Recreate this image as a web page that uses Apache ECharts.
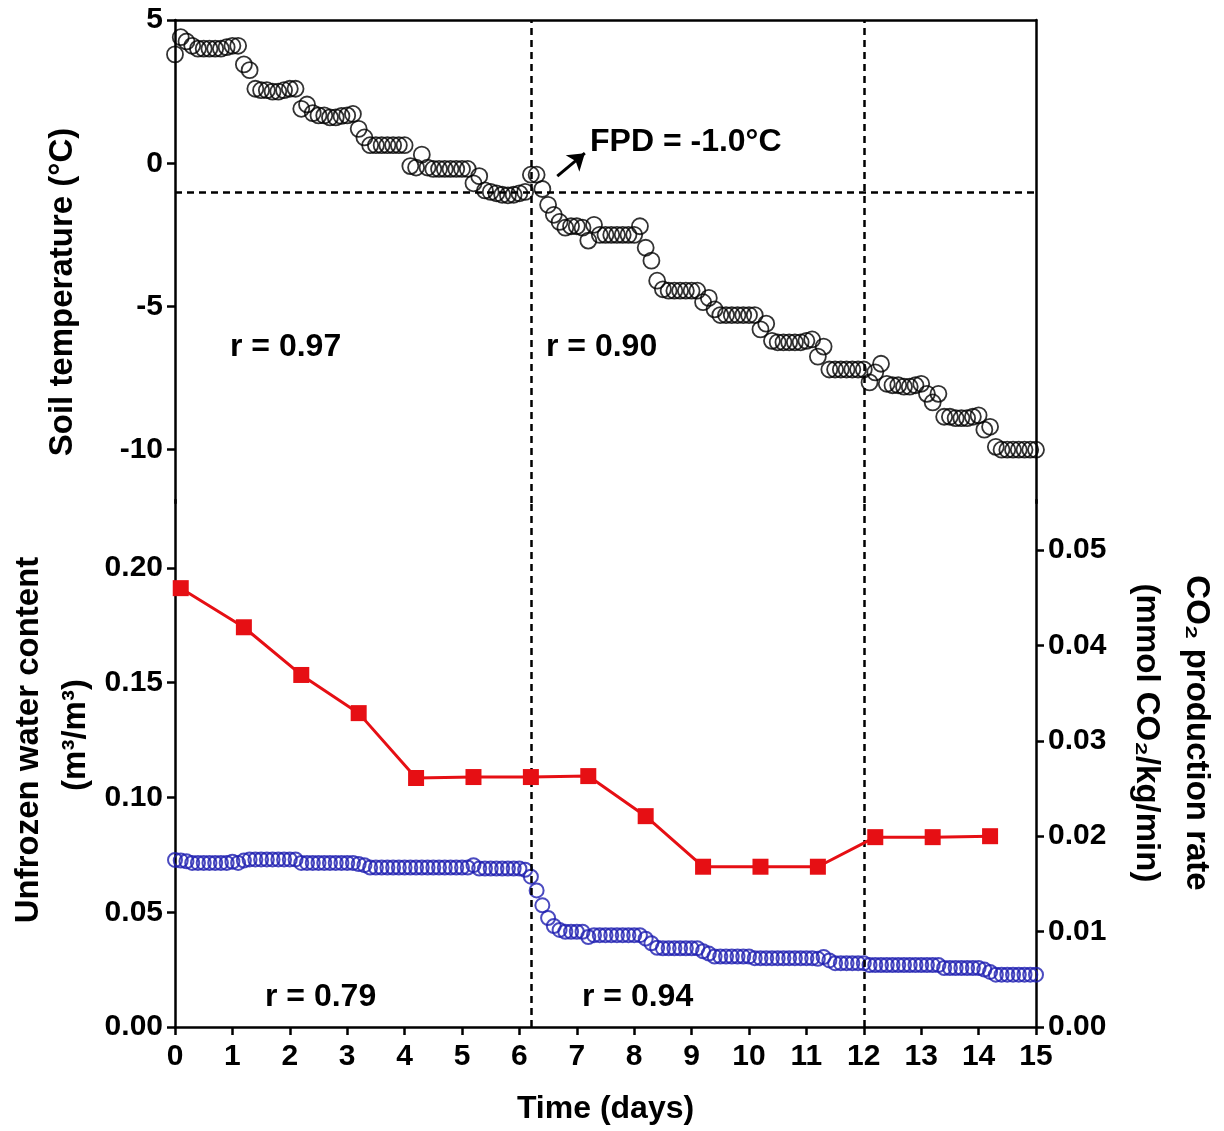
<!DOCTYPE html>
<html>
<head>
<meta charset="utf-8">
<script src="https://cdn.jsdelivr.net/npm/echarts@6/dist/echarts.min.js"></script>
<style>
html,body{margin:0;padding:0;background:#fff;}
#chart{width:1224px;height:1131px;}
</style>
</head>
<body>
<div id="chart"></div>
<script>
// ---- data ----
const sampleStepDays = 0.1; // sampling interval of the logged series (days)

const soilTemp = [
  3.8, 4.4, 4.25, 4.1, 4.0, 4.0, 4.0, 4.0, 4.0, 4.05,
  4.1, 4.1, 3.45, 3.25, 2.6, 2.55, 2.55, 2.5, 2.5, 2.55,
  2.6, 2.6, 1.9, 2.05, 1.75, 1.67, 1.67, 1.6, 1.6, 1.65,
  1.67, 1.72, 1.2, 0.9, 0.63, 0.63, 0.63, 0.63, 0.63, 0.63,
  0.63, -0.1, -0.15, 0.3, -0.15, -0.2, -0.2, -0.2, -0.2, -0.2,
  -0.2, -0.2, -0.7, -0.45, -0.95, -1.0, -1.05, -1.1, -1.12, -1.1,
  -1.05, -1.0, -0.4, -0.4, -0.9, -1.45, -1.8, -2.05, -2.25, -2.2,
  -2.2, -2.25, -2.7, -2.15, -2.5, -2.5, -2.5, -2.5, -2.5, -2.5,
  -2.5, -2.2, -2.95, -3.4, -4.1, -4.4, -4.45, -4.45, -4.45, -4.45,
  -4.45, -4.45, -4.85, -4.7, -5.1, -5.3, -5.3, -5.3, -5.3, -5.3,
  -5.3, -5.3, -5.8, -5.6, -6.2, -6.25, -6.25, -6.25, -6.25, -6.25,
  -6.2, -6.15, -6.75, -6.4, -7.2, -7.2, -7.2, -7.2, -7.2, -7.2,
  -7.2, -7.65, -7.3, -7.0, -7.7, -7.75, -7.75, -7.8, -7.8, -7.75,
  -7.7, -8.05, -8.35, -8.05, -8.85, -8.85, -8.9, -8.9, -8.9, -8.85,
  -8.8, -9.3, -9.2, -9.9, -10.0, -10.0, -10.0, -10.0, -10.0, -10.0,
  -10.0
];

const unfrozenWater = [
  0.0728, 0.0725, 0.0722, 0.0715, 0.0715, 0.0715, 0.0715, 0.0715, 0.0715, 0.0715,
  0.0720, 0.0715, 0.0725, 0.0730, 0.0730, 0.0730, 0.0730, 0.0730, 0.0730, 0.0730,
  0.0730, 0.0730, 0.0715, 0.0715, 0.0715, 0.0715, 0.0715, 0.0715, 0.0715, 0.0715,
  0.0715, 0.0715, 0.0710, 0.0705, 0.0695, 0.0695, 0.0695, 0.0695, 0.0695, 0.0695,
  0.0695, 0.0695, 0.0695, 0.0695, 0.0695, 0.0695, 0.0695, 0.0695, 0.0695, 0.0695,
  0.0695, 0.0695, 0.0705, 0.0690, 0.0690, 0.0690, 0.0690, 0.0690, 0.0690, 0.0690,
  0.0690, 0.0685, 0.0655, 0.0595, 0.0530, 0.0475, 0.0440, 0.0423, 0.0415, 0.0415,
  0.0415, 0.0415, 0.0392, 0.0400, 0.0400, 0.0400, 0.0400, 0.0400, 0.0400, 0.0400,
  0.0400, 0.0400, 0.0385, 0.0365, 0.0345, 0.0343, 0.0343, 0.0343, 0.0343, 0.0343,
  0.0343, 0.0343, 0.0330, 0.0320, 0.0307, 0.0307, 0.0307, 0.0307, 0.0307, 0.0307,
  0.0307, 0.0300, 0.0300, 0.0300, 0.0300, 0.0300, 0.0300, 0.0300, 0.0300, 0.0300,
  0.0300, 0.0300, 0.0297, 0.0305, 0.0290, 0.0278, 0.0278, 0.0278, 0.0278, 0.0278,
  0.0278, 0.0270, 0.0270, 0.0270, 0.0270, 0.0270, 0.0270, 0.0270, 0.0270, 0.0270,
  0.0270, 0.0270, 0.0270, 0.0270, 0.0257, 0.0257, 0.0257, 0.0257, 0.0257, 0.0257,
  0.0257, 0.0250, 0.0240, 0.0228, 0.0228, 0.0228, 0.0228, 0.0228, 0.0228, 0.0228,
  0.0228
];

const co2Days = [0.1, 1.2, 2.2, 3.2, 4.2, 5.2, 6.2, 7.2, 8.2, 9.2, 10.2, 11.2, 12.2, 13.2, 14.2];
const co2Rate = [0.0460, 0.0419, 0.0369, 0.0329, 0.0261, 0.0262, 0.0262, 0.0263, 0.0221, 0.0168, 0.0168, 0.0168, 0.0199, 0.0199, 0.0200];

const phaseBoundaries = [6.2, 12];
const fpdTemp = -1.0;
const tempTicks = [-10, -5, 0, 5];
const waterTicks = [0, 0.05, 0.10, 0.15, 0.20];
const co2Ticks = [0, 0.01, 0.02, 0.03, 0.04, 0.05];

// ---- chart ----
const FONT = '"Liberation Sans", Arial, Helvetica, sans-serif';
const AX = { color: '#000', width: 2.5 };
const AXL = { show: true, onZero: false, lineStyle: AX };
const dash = { type: [7, 5], color: '#000', width: 2.5 };

const tempPts = soilTemp.map((v, i) => [+(i * sampleStepDays).toFixed(2), v]);
const waterPts = unfrozenWater.map((v, i) => [+(i * sampleStepDays).toFixed(2), v]);
const co2Pts = co2Days.map((d, i) => [d, co2Rate[i]]);

const labelStyle = { color: '#000', fontSize: 30, fontWeight: 'bold', fontFamily: FONT };

const chart = echarts.init(document.getElementById('chart'), null, { renderer: 'canvas' });

function txt(text, x, y, opts) {
  opts = opts || {};
  return {
    type: 'text', x: x, y: y, rotation: opts.rotation || 0, z: 100,
    style: {
      text: text, fill: '#000',
      font: 'bold ' + (opts.size || 32) + 'px ' + FONT,
      align: opts.align || 'left', verticalAlign: 'middle',
      textAlign: opts.align || 'left', textVerticalAlign: 'middle'
    }
  };
}

const option = {
  animation: false,
  backgroundColor: '#fff',
  grid: [
    { left: 175, top: 20, width: 861, height: 483 },
    { left: 175, top: 500, width: 861, height: 527 }
  ],
  xAxis: [
    { gridIndex: 0, type: 'value', min: 0, max: 15, position: 'top',
      axisLine: AXL, axisTick: { show: false },
      axisLabel: { show: false }, splitLine: { show: false } },
    { gridIndex: 1, type: 'value', min: 0, max: 15, interval: 1, position: 'bottom',
      axisLine: AXL,
      axisTick: { show: true, length: 8, lineStyle: AX },
      axisLabel: Object.assign({ margin: 15 }, labelStyle),
      splitLine: { show: false },
      name: 'Time (days)', nameLocation: 'middle', nameGap: 66,
      nameTextStyle: { color: '#000', fontSize: 32, fontWeight: 'bold', fontFamily: FONT } }
  ],
  yAxis: [
    { gridIndex: 0, type: 'value', min: -11.86, max: 5, position: 'left',
      axisLine: AXL,
      axisTick: { show: true, length: 8, lineStyle: AX, customValues: tempTicks },
      axisLabel: Object.assign({ margin: 12, customValues: tempTicks }, labelStyle),
      splitLine: { show: false } },
    { gridIndex: 0, type: 'value', min: -11.86, max: 5, position: 'right',
      axisLine: AXL, axisTick: { show: false },
      axisLabel: { show: false }, splitLine: { show: false } },
    { gridIndex: 1, type: 'value', min: 0, max: 0.2296, position: 'left',
      axisLine: AXL,
      axisTick: { show: true, length: 8, lineStyle: AX, customValues: waterTicks },
      axisLabel: Object.assign({ margin: 12, customValues: waterTicks, formatter: v => v.toFixed(2) }, labelStyle),
      splitLine: { show: false } },
    { gridIndex: 1, type: 'value', min: 0, max: 0.05524, position: 'right',
      axisLine: AXL,
      axisTick: { show: true, length: 8, lineStyle: AX, customValues: co2Ticks },
      axisLabel: Object.assign({ margin: 12, customValues: co2Ticks, formatter: v => v.toFixed(2) }, labelStyle),
      splitLine: { show: false } }
  ],
  series: [
    { type: 'scatter', name: 'Soil temperature', xAxisIndex: 0, yAxisIndex: 0,
      data: tempPts, symbol: 'circle', symbolSize: 16,
      itemStyle: { color: 'rgba(0,0,0,0)', borderColor: '#000', borderWidth: 1.8 },
      markLine: {
        silent: true, symbol: 'none', animation: false,
        label: { show: false }, lineStyle: dash,
        data: [
          { xAxis: phaseBoundaries[0] }, { xAxis: phaseBoundaries[1] }, { yAxis: fpdTemp },
          [
            { coord: [6.66, -0.45], symbol: 'none', lineStyle: { type: 'solid', width: 3, color: '#000' } },
            { coord: [7.14, 0.35], symbol: 'arrow', symbolSize: 16 }
          ]
        ]
      } },
    { type: 'scatter', name: 'Unfrozen water content', xAxisIndex: 1, yAxisIndex: 2,
      data: waterPts, symbol: 'circle', symbolSize: 14,
      itemStyle: { color: 'rgba(0,0,0,0)', borderColor: '#1e1eb0', borderWidth: 2 },
      markLine: {
        silent: true, symbol: 'none', animation: false,
        label: { show: false }, lineStyle: dash,
        data: [{ xAxis: phaseBoundaries[0] }, { xAxis: phaseBoundaries[1] }]
      } },
    { type: 'line', name: 'CO2 production rate', xAxisIndex: 1, yAxisIndex: 3,
      data: co2Pts, symbol: 'rect', symbolSize: 16, z: 5,
      lineStyle: { color: '#e60f14', width: 3 },
      itemStyle: { color: '#e60f14' } }
  ],
  graphic: [
    txt('FPD = -1.0°C', 590, 142),
    txt('r = 0.97', 230, 347),
    txt('r = 0.90', 546, 347),
    txt('r = 0.79', 265, 997),
    txt('r = 0.94', 582, 997),
    txt('Soil temperature (°C)', 63, 292, { align: 'center', rotation: Math.PI / 2, size: 33 }),
    txt('Unfrozen water content', 29, 740, { align: 'center', rotation: Math.PI / 2, size: 33 }),
    txt('(m³/m³)', 76, 735, { align: 'center', rotation: Math.PI / 2, size: 33 }),
    txt('CO₂ production rate', 1196, 733, { align: 'center', rotation: -Math.PI / 2, size: 33 }),
    txt('(mmol CO₂/kg/min)', 1146, 733, { align: 'center', rotation: -Math.PI / 2, size: 33 })
  ]
};
chart.setOption(option);
</script>
</body>
</html>
